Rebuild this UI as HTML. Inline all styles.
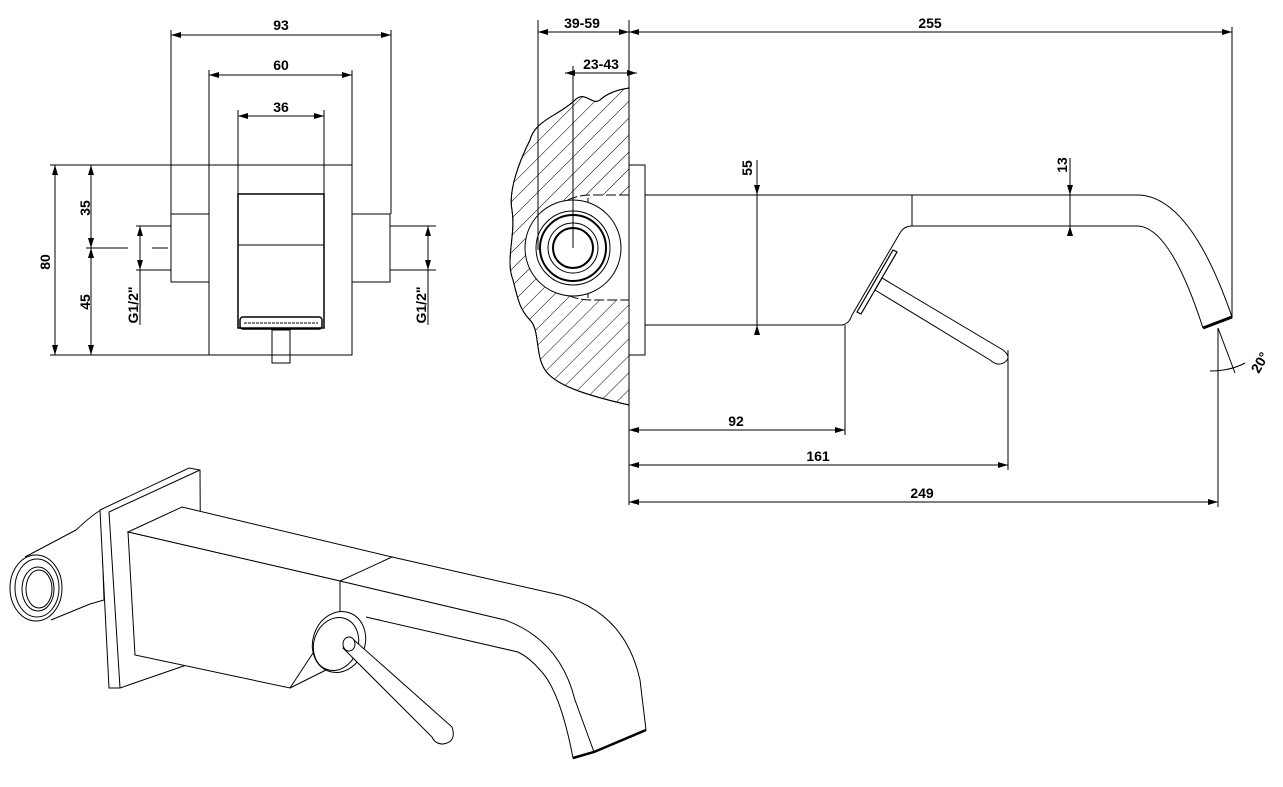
<!DOCTYPE html>
<html><head><meta charset="utf-8"><style>
html,body{margin:0;padding:0;background:#fff;overflow:hidden}
svg{display:block}
text{font-family:"Liberation Sans",sans-serif;font-weight:bold;font-size:14px;fill:#000}
</style></head><body>
<svg width="1283" height="787" viewBox="0 0 1283 787" xmlns="http://www.w3.org/2000/svg">
<defs>
<marker id="a" viewBox="0 0 10 6" refX="10" refY="3" markerWidth="10" markerHeight="6" orient="auto-start-reverse" markerUnits="userSpaceOnUse"><path d="M0,0L10,3L0,6z" fill="#000"/></marker>
<pattern id="h" width="12" height="12" patternUnits="userSpaceOnUse" patternTransform="rotate(45)"><line x1="0" y1="0" x2="0" y2="12" stroke="#000" stroke-width="1"/></pattern>
</defs>
<g fill="none" stroke="#000" stroke-width="1">
<!-- FRONT VIEW -->
<line x1="171" y1="30" x2="171" y2="214"/><line x1="391" y1="30" x2="391" y2="214"/>
<line x1="171" y1="35" x2="391" y2="35" marker-start="url(#a)" marker-end="url(#a)"/>
<line x1="209" y1="70" x2="209" y2="165"/><line x1="352" y1="70" x2="352" y2="165"/>
<line x1="209" y1="75" x2="352" y2="75" marker-start="url(#a)" marker-end="url(#a)"/>
<line x1="238" y1="110" x2="238" y2="194"/><line x1="324" y1="110" x2="324" y2="194"/>
<line x1="238" y1="116" x2="324" y2="116" marker-start="url(#a)" marker-end="url(#a)"/>
<rect x="209" y="165" width="143" height="190"/>
<line x1="50" y1="165" x2="209" y2="165"/><line x1="50" y1="355" x2="209" y2="355"/>
<line x1="55" y1="165" x2="55" y2="355" marker-start="url(#a)" marker-end="url(#a)"/>
<line x1="91" y1="165" x2="91" y2="248" marker-start="url(#a)" marker-end="url(#a)"/>
<line x1="91" y1="248" x2="91" y2="355" marker-start="url(#a)" marker-end="url(#a)"/>
<line x1="86" y1="248" x2="128" y2="248"/><line x1="152" y1="248" x2="168" y2="248"/>
<rect x="171" y="214" width="38" height="68"/>
<rect x="352" y="214" width="38" height="68"/>
<line x1="136" y1="226" x2="171" y2="226"/><line x1="136" y1="270" x2="171" y2="270"/>
<line x1="140" y1="226" x2="140" y2="270" marker-start="url(#a)" marker-end="url(#a)"/>
<line x1="140" y1="270" x2="140" y2="325"/>
<line x1="390" y1="226" x2="436" y2="226"/><line x1="390" y1="270" x2="436" y2="270"/>
<line x1="428" y1="226" x2="428" y2="270" marker-start="url(#a)" marker-end="url(#a)"/>
<line x1="428" y1="270" x2="428" y2="325"/>
<rect x="238" y="194" width="86" height="134" stroke-width="1.5"/>
<line x1="238" y1="245" x2="324" y2="245"/>
<rect x="240" y="317" width="82" height="12" rx="3" stroke-width="1.5"/>
<line x1="244" y1="323" x2="318" y2="323" stroke-dasharray="3 1"/>
<rect x="272" y="330" width="18" height="33"/>
<!-- SIDE VIEW -->
<path d="M629,88 C615,90 605,95 600,100 C592,106 585,90 575,100 C560,115 535,120 530,140 C520,160 508,190 512,210 C516,235 505,260 513,280 C518,300 520,310 530,320 C540,330 535,355 545,370 C555,385 585,395 629,405 Z" fill="url(#h)"/>
<path d="M629,88 C615,90 605,95 600,100 C592,106 585,90 575,100 C560,115 535,120 530,140 C520,160 508,190 512,210 C516,235 505,260 513,280 C518,300 520,310 530,320 C540,330 535,355 545,370 C555,385 585,395 629,405"/>
<path d="M629,195 H590 A50,50 0 0 0 590,300 H629 Z" fill="#fff" stroke="none"/>
<path d="M629,195 H590 A50,50 0 0 0 590,300 H629" stroke-dasharray="10 3"/>
<path d="M588,198 V298"/>
<circle cx="573" cy="248" r="48" fill="#fff"/>
<circle cx="573" cy="248" r="37" fill="#fff"/>
<circle cx="573" cy="248" r="33" stroke-width="2"/>
<circle cx="573" cy="248" r="25"/>
<circle cx="573" cy="248" r="20" stroke-width="2"/>
<rect x="629" y="165" width="16" height="190" fill="#fff"/>
<line x1="538" y1="20" x2="538" y2="250"/><line x1="629" y1="20" x2="629" y2="505"/>
<line x1="538" y1="32" x2="629" y2="32" marker-start="url(#a)" marker-end="url(#a)"/>
<line x1="629" y1="32" x2="1232" y2="32" marker-start="url(#a)" marker-end="url(#a)"/>
<line x1="1232" y1="27" x2="1232" y2="318"/>
<line x1="565" y1="73" x2="637" y2="73" marker-start="url(#a)" marker-end="url(#a)"/>
<line x1="573" y1="66" x2="573" y2="248"/>
<path d="M645,195 H1137 Q1190,195 1232,317"/>
<path d="M645,325 H842 Q849,324 852,315 L900,233 Q904,226 912,226 H1137 Q1170,226 1203,328"/>
<line x1="912" y1="195" x2="912" y2="226"/>
<path d="M1203,328 L1232,317" stroke-width="3"/>
<path d="M857,312 L893,250 L897,252 L861,314 Z" stroke-width="1.2"/>
<path d="M875,290 L882,278 L1003,350 Q1012,357 1005,362 Q998,367 990,360 Z"/>
<line x1="757" y1="160" x2="757" y2="195" marker-end="url(#a)"/>
<line x1="757" y1="195" x2="757" y2="325"/>
<line x1="757" y1="335" x2="757" y2="325" marker-end="url(#a)"/>
<line x1="1070" y1="158" x2="1070" y2="195" marker-end="url(#a)"/>
<line x1="1070" y1="195" x2="1070" y2="226"/>
<line x1="1070" y1="236" x2="1070" y2="226" marker-end="url(#a)"/>
<line x1="845" y1="325" x2="845" y2="435"/><line x1="1008" y1="350" x2="1008" y2="470"/>
<line x1="1218" y1="328" x2="1218" y2="507"/>
<line x1="629" y1="430" x2="845" y2="430" marker-start="url(#a)" marker-end="url(#a)"/>
<line x1="629" y1="465" x2="1008" y2="465" marker-start="url(#a)" marker-end="url(#a)"/>
<line x1="629" y1="502" x2="1218" y2="502" marker-start="url(#a)" marker-end="url(#a)"/>
<line x1="1218" y1="328" x2="1235" y2="373"/>
<path d="M1210,371 Q1230,371 1245,363"/>
<!-- ISO VIEW -->
<path d="M76,530 Q92,515 101,510 L104,600 L90,604 L51,620" fill="#fff"/>
<path d="M25,557 L76,530"/>
<path d="M100,510 L189,468 L200,470 L201,660 L120,688 L109,688 Z" fill="#fff"/>
<line x1="109" y1="512" x2="120" y2="688"/>
<line x1="109" y1="512" x2="200" y2="470"/>
<path d="M128,532 L182,507 L392,557 L340,581 Z" fill="#fff"/>
<path d="M128,532 L340,581 L340,612 L290,688 L135,655 Z" fill="#fff"/>
<path d="M290,688 L330,668"/>
<path d="M392,557 L560,595 Q625,612 640,680 L646,730 L594,752 L573,758 Q560,690 540,670 Q530,658 518,652 L366,617"/>
<path d="M340,581 L505,620 Q560,640 575,700 L594,752"/>
<path d="M573,758 L594,752 L646,730" stroke-width="2.5"/>
<ellipse cx="339" cy="642" rx="26" ry="31" transform="rotate(20 339 642)" fill="#fff"/>
<ellipse cx="336" cy="644" rx="22" ry="27" transform="rotate(20 336 644)"/>
<path d="M343,648 L354,640 L452,727 Q457,742 443,744 Q435,744 432,737 Z" fill="#fff"/>
<ellipse cx="349" cy="644" rx="6" ry="7" fill="#fff"/>
<ellipse cx="36" cy="588" rx="26" ry="33" fill="#fff"/>
<ellipse cx="37" cy="588" rx="22" ry="29"/>
<ellipse cx="38" cy="589" rx="16" ry="22"/>
<ellipse cx="39" cy="589" rx="13" ry="19"/>
</g>
<g>
<text x="281" y="30" text-anchor="middle">93</text>
<text x="281" y="70" text-anchor="middle">60</text>
<text x="281" y="112" text-anchor="middle">36</text>
<text transform="translate(50,262) rotate(-90)" text-anchor="middle">80</text>
<text transform="translate(90,208) rotate(-90)" text-anchor="middle">35</text>
<text transform="translate(90,302) rotate(-90)" text-anchor="middle">45</text>
<text transform="translate(138,305) rotate(-90)" text-anchor="middle">G1/2"</text>
<text transform="translate(426,305) rotate(-90)" text-anchor="middle">G1/2"</text>
<text x="582" y="28" text-anchor="middle">39-59</text>
<text x="930" y="28" text-anchor="middle">255</text>
<text x="601" y="69" text-anchor="middle">23-43</text>
<text transform="translate(752,168) rotate(-90)" text-anchor="middle">55</text>
<text transform="translate(1067,165) rotate(-90)" text-anchor="middle">13</text>
<text x="736" y="426" text-anchor="middle">92</text>
<text x="818" y="461" text-anchor="middle">161</text>
<text x="922" y="498" text-anchor="middle">249</text>
<text transform="translate(1264,365) rotate(-60)" text-anchor="middle">20°</text>
</g>
</svg>
</body></html>
